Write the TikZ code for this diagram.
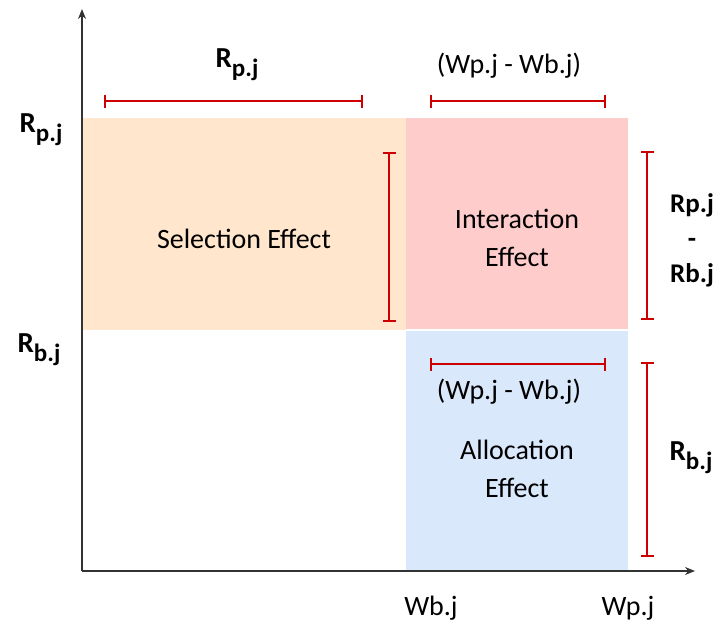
\documentclass[tikz,border=0pt]{standalone}
\usepackage{fontspec}
\setmainfont{Carlito}
\usetikzlibrary{arrows.meta}

\definecolor{axisgray}{HTML}{333333}
\definecolor{bracketred}{HTML}{CC0000}
\definecolor{peachfill}{HTML}{FFE6CC}
\definecolor{pinkfill}{HTML}{FFCCCC}
\definecolor{bluefill}{HTML}{DAE8FC}

% bold return label with a lowered subscript
\newcommand\retlab[1]{\fontsize{29}{29}\selectfont\bfseries R\raisebox{-9pt}{\fontsize{25}{25}\selectfont #1}}

\tikzset{
  axisline/.style={draw=axisgray, line width=1.3pt, -{Stealth[length=10pt,width=8pt]}},
  measure/.style={draw=bracketred, line width=2pt,
    {Bar[width=13pt,line width=2pt]}-{Bar[width=13pt,line width=2pt]}},
  txt/.style={inner sep=0pt, align=center, font=\fontsize{28}{38}\selectfont},
  boldtxt/.style={inner sep=0pt, align=center, font=\fontsize{27}{35}\selectfont\bfseries},
  rlab/.style={inner sep=0pt, anchor=base},
}

\begin{document}
\begin{tikzpicture}[x=1pt, y=-1pt]
\useasboundingbox (0,0) rectangle (718,625);

% effect regions
\fill[peachfill] (83,118) rectangle (406,330);
\fill[pinkfill]  (406,118) rectangle (628,329);
\fill[bluefill]  (406,331) rectangle (628,571);

% axes
\coordinate (origin) at (82,571);
\coordinate (ytip) at (82,9);
\coordinate (xtip) at (695,571);
\draw[axisline] (origin) -- (ytip);
\draw[axisline] (origin) -- (xtip);

% measurement brackets
\coordinate (a1) at (104,101); \coordinate (a2) at (363,101);
\coordinate (b1) at (430,101); \coordinate (b2) at (606,101);
\coordinate (c1) at (389,152); \coordinate (c2) at (389,322);
\coordinate (d1) at (647,151); \coordinate (d2) at (647,320);
\coordinate (e1) at (430,364); \coordinate (e2) at (606,364);
\coordinate (f1) at (647,362); \coordinate (f2) at (647,557);
\draw[measure] (a1) -- (a2);
\draw[measure] (b1) -- (b2);
\draw[measure] (c1) -- (c2);
\draw[measure] (d1) -- (d2);
\draw[measure] (e1) -- (e2);
\draw[measure] (f1) -- (f2);

% labels
\node[rlab] (rpTop) at (237,67) {\retlab{p.j}};
\node[txt] (wTop) at (509,66) {(Wp.j - Wb.j)};
\node[rlab] (rpAxis) at (41,132) {\retlab{p.j}};
\node[rlab] (rbAxis) at (39,352) {\retlab{b.j}};
\node[txt] (selection) at (244,239) {Selection Effect};
\node[txt] (interaction) at (517,238) {Interaction\\Effect};
\node[boldtxt] (diff) at (692,240) {Rp.j\\-\\Rb.j};
\node[txt] (wLow) at (509,392) {(Wp.j - Wb.j)};
\node[txt] (allocation) at (517,469) {Allocation\\Effect};
\node[rlab] (rbRight) at (691,460) {\retlab{b.j}};
\node[txt] (wb) at (431,608) {Wb.j};
\node[txt] (wp) at (628,608) {Wp.j};
\end{tikzpicture}
\end{document}
